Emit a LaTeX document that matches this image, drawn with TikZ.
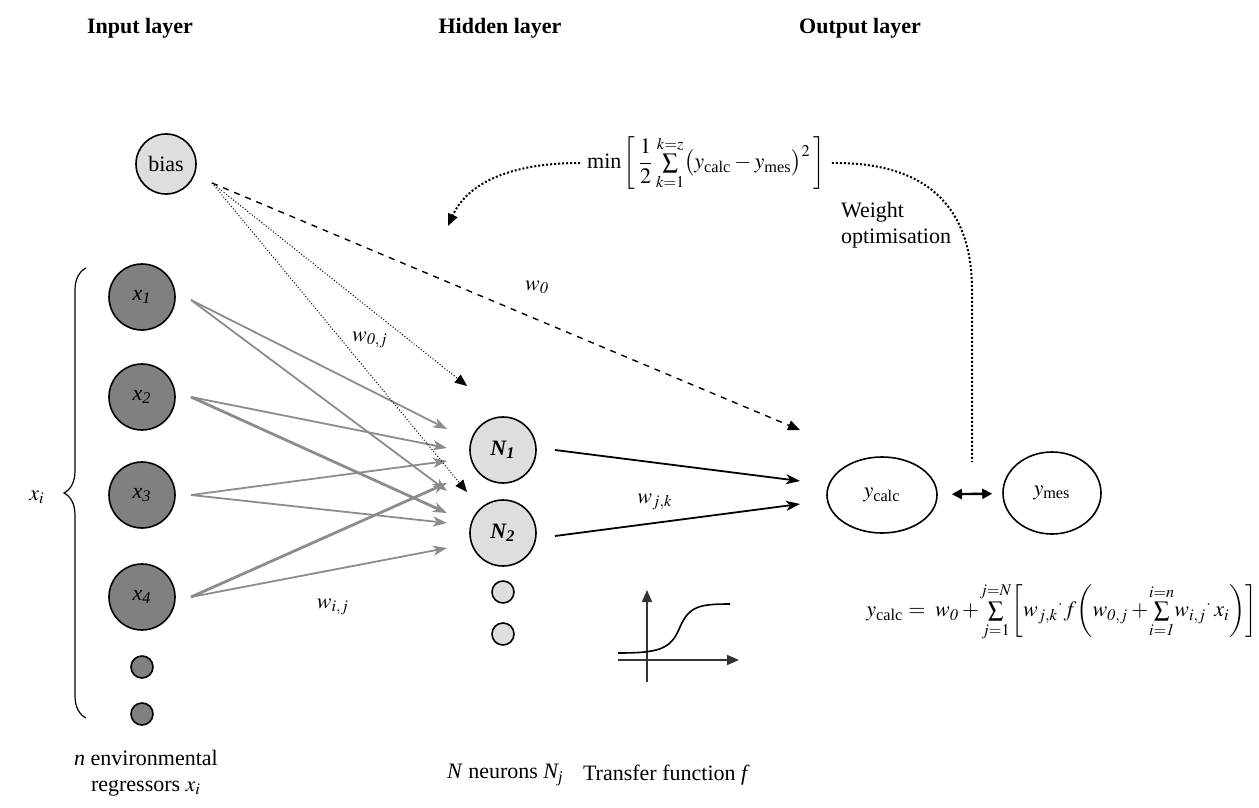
\documentclass[tikz,border=0pt]{standalone}
\usepackage{amsmath}
\usepackage{mathptmx}
\usepackage{fontspec}
\setmainfont{Liberation Serif}
\newfontfamily\figfont{Liberation Serif}
\usetikzlibrary{arrows.meta,arrows}
\usetikzlibrary{positioning,shapes.geometric,decorations.pathreplacing}

\definecolor{lightfill}{gray}{0.87}
\definecolor{darkfill}{gray}{0.5}
\definecolor{linkgray}{gray}{0.55}

\newcommand{\rsub}[1]{\text{\figfont #1}}

\begin{document}
\begin{tikzpicture}[x=0.5pt,y=-0.5pt,font=\figfont\fontsize{11}{13}\selectfont]

        \useasboundingbox (0,0) rectangle (1259,808);

        % layer titles
        \begin{scope}[every node/.style={font=\figfont\fontsize{11}{13}\selectfont\bfseries}]
            \node (tin) at (140,28) {Input layer};
            \node (thid) at (500,28) {Hidden layer};
            \node (tout) at (860,28) {Output layer};
        \end{scope}

        \begin{scope}[every node/.style={circle,draw,line width=0.8pt,inner sep=0pt}]
            \node[fill=lightfill,minimum size=30pt] (bias) at (166,164) {bias};
            \node[fill=darkfill,minimum size=33pt] (x1) at (142,297) {\itshape x\textsubscript{1}};
            \node[fill=darkfill,minimum size=33pt] (x2) at (142,397) {\itshape x\textsubscript{2}};
            \node[fill=darkfill,minimum size=33pt] (x3) at (142,495) {\itshape x\textsubscript{3}};
            \node[fill=darkfill,minimum size=33pt] (x4) at (142,597) {\itshape x\textsubscript{4}};
            \node[fill=darkfill,minimum size=11pt] (x5) at (142,667) {};
            \node[fill=darkfill,minimum size=11pt] (x6) at (142,714) {};
            \node[fill=lightfill,minimum size=33pt] (N1) at (503,450) {\bfseries\itshape N\textsubscript{1}};
            \node[fill=lightfill,minimum size=33pt] (N2) at (503,533) {\bfseries\itshape N\textsubscript{2}};
            \node[fill=lightfill,minimum size=11pt] (N3) at (503,592) {};
            \node[fill=lightfill,minimum size=11pt] (N4) at (503,634) {};
        \end{scope}

        \begin{scope}[every node/.style={ellipse,draw,line width=0.8pt,inner sep=0pt}]
            \node[minimum width=55pt,minimum height=38pt] (ycalc) at (882,495) {$y_{\rsub{calc}}$};
            \node[minimum width=49pt,minimum height=41pt] (ymes) at (1052,493) {$y_{\rsub{mes}}$};
        \end{scope}

        % brace round the inputs
        \draw[line width=0.6pt,decorate,decoration={brace,amplitude=11pt}] (86,718) -- (86,268);
        \node (xi) at (37,497) {$x_i$};

        % free ends of the links
        \coordinate (biasout) at (212,183);
        \coordinate (in1) at (191,300);
        \coordinate (in2) at (191,397);
        \coordinate (in3) at (191,495);
        \coordinate (in4) at (191,597);
        \coordinate (ta) at (447,429);
        \coordinate (tb) at (447,448);
        \coordinate (tc) at (447,461);
        \coordinate (td) at (447,483);
        \coordinate (te) at (447,491);
        \coordinate (tf) at (447,513);
        \coordinate (tg) at (447,523);
        \coordinate (th) at (447,548);
        \coordinate (b1) at (467,386);
        \coordinate (b2) at (467,492);
        \coordinate (b3) at (800,430);
        \coordinate (h1) at (555,450);
        \coordinate (h2) at (555,536);
        \coordinate (k1) at (800,481);
        \coordinate (k2) at (800,504);

        \begin{scope}[linkgray,line width=0.9pt,>={Stealth[length=7pt,width=5pt,inset=2pt]}]
            \draw[->] (in1) -- (ta);
            \draw[->] (in1) -- (te);
            \draw[->] (in2) -- (tb);
            \draw[->,line width=1.4pt] (in2) -- (tf);
            \draw[->] (in3) -- (tc);
            \draw[->] (in3) -- (tg);
            \draw[->,line width=1.4pt] (in4) -- (td);
            \draw[->] (in4) -- (th);
        \end{scope}

        \begin{scope}[>={Triangle[length=6pt,width=5pt]}]
            \draw[->,densely dotted,line width=0.5pt] (biasout) -- (b1);
            \draw[->,densely dotted,line width=0.5pt] (biasout) -- (b2);
            \draw[->,dashed,line width=0.7pt] (biasout) -- (b3);
        \end{scope}

        \begin{scope}[line width=0.9pt,>={Stealth[length=7pt,width=5pt,inset=2pt]}]
            \draw[->] (h1) -- (k1);
            \draw[->] (h2) -- (k2);
        \end{scope}

        \draw[{Triangle[length=5pt,width=5pt]}-{Triangle[length=5pt,width=5pt]},line width=1.2pt,
            shorten <=7pt,shorten >=5pt] (ycalc) -- (ymes);

        % weight labels
        \node (w0) at (537,287) {$w_{\mathit{0}}$};
        \node (w0j) at (370,340) {$w_{\mathit{0},j}$};
        \node (wij) at (333,607) {$w_{i,j}$};
        \node (wjk) at (655,502) {$w_{j,k}$};

        % error to minimise
        \node (loss) at (706,163)
            {$\rsub{min}\left[\,\dfrac{1}{2}\sum\limits_{k=1}^{k=z}\bigl(y_{\rsub{calc}}-y_{\rsub{mes}}\bigr)^2\,\right]$};
        \coordinate (opttip) at (448,226);
        \coordinate (optend) at (972,462);
        \draw[->,>={Triangle[length=6pt,width=5pt]},densely dotted,line width=1pt]
            (loss.west) .. controls (505,163) and (466,186) .. (opttip);
        \draw[densely dotted,line width=1pt]
            (loss.east) .. controls (925,162) and (972,205) .. (972,290) -- (optend);
        \node[align=left,anchor=west] (wopt) at (834,225) {Weight\\optimisation};

        % transfer function
        \draw[->,>={Triangle[length=6pt,width=5pt]},line width=0.8pt,black!80] (647,682) -- (647,590);
        \draw[->,>={Triangle[length=6pt,width=5pt]},line width=0.8pt,black!80] (618,660) -- (739,660);
        \draw[line width=0.8pt] (618,653) .. controls (660,653) and (671,649) .. (680,627)
            .. controls (689,606) and (700,604) .. (730,604);

        % output formula
        \node[anchor=west,inner sep=0pt] (yform) at (866,612)
            {$y_{\rsub{calc}} =\; w_{\mathit{0}} + \!\sum\limits_{j=1}^{j=N}\!\left[w_{j,k}{}^{\cdot} f\biggl(w_{\mathit{0},j} + \!\sum\limits_{i=\mathit{1}}^{i=n}\! w_{i,j}{}^{\cdot}\, x_i\biggr)\right]$};

        % captions
        \node[align=center] (capin) at (146,773) {\textit{n} environmental\\regressors $x_i$};
        \node[anchor=west] (caphid) at (440,775) {\textit{N} neurons \textit{N\textsubscript{j}}};
        \node[anchor=west] (capf) at (576,775) {Transfer function \textit{f}};
    \end{tikzpicture}
\end{document}
